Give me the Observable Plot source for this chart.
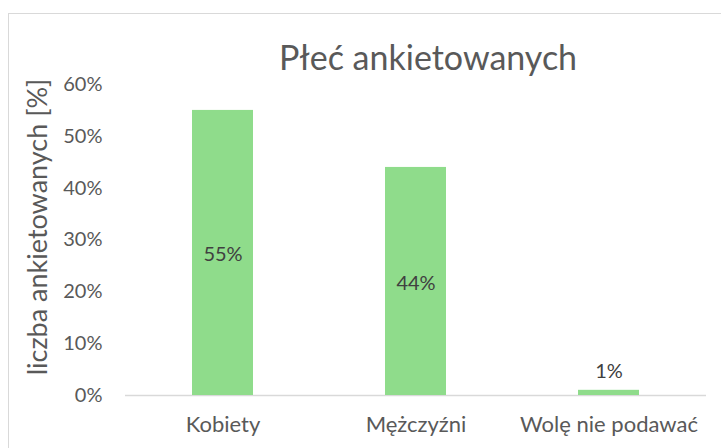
<!DOCTYPE html>
<html>
<head>
<meta charset="utf-8">
<script src="https://cdn.jsdelivr.net/npm/d3@7"></script>
<script src="https://cdn.jsdelivr.net/npm/@observablehq/plot@0.6"></script>
<style>
  html, body { margin: 0; padding: 0; background: #fff; overflow: hidden; width: 721px; height: 448px; }
  #wrap { position: relative; width: 721px; height: 448px; }
  #border { position: absolute; left: 8px; top: 13px; width: 740px; height: 460px; border: 1px solid #d9d9d9; box-sizing: border-box; pointer-events: none; }
  #chart { position: absolute; left: 0; top: 0; }
</style>
</head>
<body>
<div id="wrap"><div id="border"></div><div id="chart"></div></div>
<script>
const title = "Płeć ankietowanych";
const yLabel = "liczba ankietowanych [%]";
const categories = ["Kobiety", "Mężczyźni", "Wolę nie podawać"];
const values = [55, 44, 1];
const yTicks = [0, 10, 20, 30, 40, 50, 60];

const data = categories.map((c, i) => ({category: c, value: values[i]}));
const big = data.filter(d => d.value >= 5);
const small = data.filter(d => d.value < 5);

const textColor = "#595959";
const font = "Lato, 'Open Sans', sans-serif";

const chart = Plot.plot({
  width: 721,
  height: 448,
  marginLeft: 125,
  marginRight: 15,
  marginTop: 84,
  marginBottom: 53,
  style: {fontFamily: font, color: textColor, background: "transparent", overflow: "visible"},
  x: {domain: categories, paddingInner: 0.685, paddingOuter: 0.3425, label: null},
  y: {domain: [0, 60], label: null},
  marks: [
    Plot.axisY(yTicks, {tickSize: 0, tickPadding: 23, tickFormat: d => d + "%", fontSize: 20, fill: textColor}),
    Plot.axisX({tickSize: 0, tickPadding: 21, fontSize: 22, fill: textColor}),
    Plot.ruleY([0], {stroke: "#d9d9d9", strokeWidth: 1.3}),
    Plot.barY(data, {x: "category", y: "value", fill: "#8fdc8b"}),
    Plot.text(big, {x: "category", y: d => d.value / 2, text: d => d.value + "%", fontSize: 20, fill: "#404040", dy: 2}),
    Plot.text(small, {x: "category", y: "value", text: d => d.value + "%", fontSize: 20, fill: "#404040", lineAnchor: "bottom", dy: -12}),
    Plot.text([title], {frameAnchor: "top", dx: 12, dy: -25, fontSize: 34, fill: textColor, lineAnchor: "middle"}),
    Plot.text([yLabel], {frameAnchor: "left", dx: -87, dy: -13, rotate: -90, fontSize: 27, fill: textColor, textAnchor: "middle", lineAnchor: "middle"})
  ]
});
document.getElementById("chart").appendChild(chart);
</script>
</body>
</html>
